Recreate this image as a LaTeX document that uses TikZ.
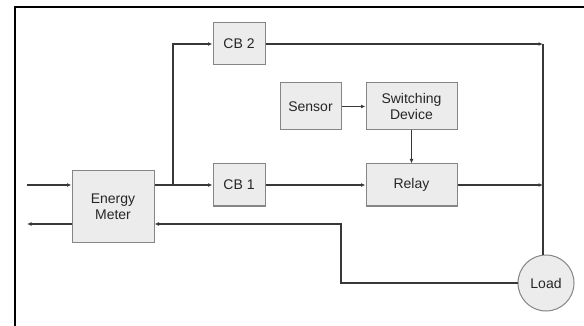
\documentclass[tikz,border=0pt]{standalone}
\usepackage{fontspec}
\setmainfont{Liberation Sans}
\usetikzlibrary{arrows.meta}

\definecolor{boxfill}{HTML}{ECECEC}
\definecolor{boxline}{HTML}{858585}
\definecolor{wirecol}{HTML}{383838}

\begin{document}
\begin{tikzpicture}[%
      x=1pt, y=-1pt,
      blk/.style={draw=boxline, fill=boxfill, line width=1pt, align=center,
        inner sep=0pt, font=\fontsize{14}{16}\selectfont, text=black!85},
      wire/.style={draw=wirecol, line width=1.6pt},
      arr/.style={wire, -{Latex[length=4.5pt,width=3.8pt]}},
      ]
      \useasboundingbox (0,0) rectangle (584,326);
      \draw [line width=2pt] (584,7) -- (15,7) -- (15,327);

      % blocks
      \node[blk, minimum width=82, minimum height=71] (meter) at (113,206.5) {Energy\\Meter};
      \node[blk, minimum width=52, minimum height=42] (cb2) at (239,44) {CB 2};
      \node[blk, minimum width=52, minimum height=42] (cb1) at (239,185) {CB 1};
      \node[blk, minimum width=61, minimum height=47] (sensor) at (310.5,106.5) {Sensor};
      \node[blk, minimum width=91, minimum height=47] (switch) at (411.5,106.5) {Switching\\Device};
      \node[blk, minimum width=91, minimum height=42] (relay) at (411.5,185) {Relay};
      \node[blk, circle, minimum size=56] (load) at (546,283) {Load};

      \coordinate (in) at (27,185);
      \coordinate (out) at (27,224);
      \coordinate (j) at (173,185);
      \coordinate (tr) at (543,44);
      \coordinate (bend) at (341,224);

      % supply side
      \draw[arr] (in) -- (in -| meter.west);
      \draw[arr] (in -| meter.east) -- (cb1);
      \draw[arr] (j) |- (cb2);
      \draw[arr] (cb2) -- (tr);
      \draw[arr] (cb1) -- (relay);
      \draw[arr] (relay) -- (relay -| tr);
      \draw[wire] (tr) -- (tr |- load.north);

      % control path
      \draw[arr] (sensor) -- (switch);
      \draw[arr] (switch) -- (relay);

      % return path
      \draw[arr] (load) -- (load -| bend) |- (meter.east |- bend);
      \draw[arr] (meter.west |- out) -- (out);
\end{tikzpicture}
\end{document}
